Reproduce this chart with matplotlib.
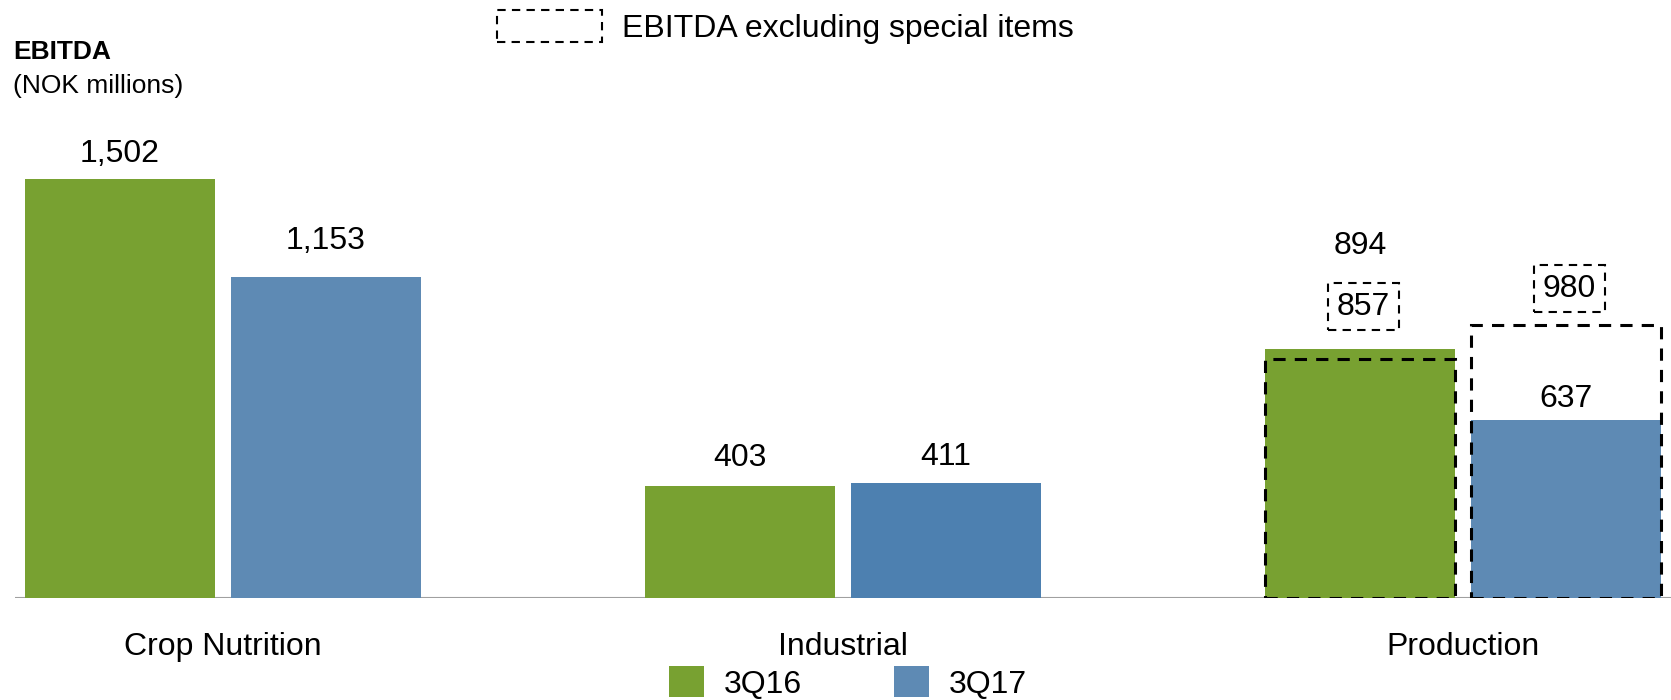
import matplotlib.pyplot as plt
from matplotlib.patches import Patch, Rectangle

plt.rcParams['font.family'] = ['Liberation Sans', 'DejaVu Sans']

categories = ["Crop Nutrition", "Industrial", "Production"]
ebitda_3q16 = [1502, 403, 894]
ebitda_3q17 = [1153, 411, 637]
# EBITDA excluding special items (only shown for Production)
excl_special = {2: (857, 980)}
series_names = ["3Q16", "3Q17"]

GREEN = "#78A131"
BLUE = "#5E8AB4"
BLUE_DARK = "#4D80B0"

fig = plt.figure(figsize=(16.71, 7.0), dpi=100)
ax = fig.add_axes([15 / 1671, 102 / 700, 1 - 15 / 1671, 598 / 700])
ax.set_xlim(-0.335, 2.335)
ax.set_ylim(0, 2145)
ax.axis("off")

off = 0.166
width = 0.306
fs = 23

blue_cols = [BLUE, BLUE_DARK, BLUE]
for i, cat in enumerate(categories):
    ax.bar(i - off, ebitda_3q16[i], width, color=GREEN, zorder=2)
    ax.bar(i + off, ebitda_3q17[i], width, color=blue_cols[i], zorder=2)
    ax.text(i, -176, cat, ha="center", va="center", fontsize=fs)

ax.axhline(0, color="#A0A0A0", lw=1.5, zorder=1)

# value labels
lab_off = [(90, 127), (98, 93), (370, 76)]
for i in range(len(categories)):
    ax.text(i - off, ebitda_3q16[i] + lab_off[i][0], f"{ebitda_3q16[i]:,}",
            ha="center", va="center", fontsize=fs)
    ax.text(i + off, ebitda_3q17[i] + lab_off[i][1], f"{ebitda_3q17[i]:,}",
            ha="center", va="center", fontsize=fs)

# dashed outlines for EBITDA excluding special items
dash = (0, (4, 3))
for i, (v16, v17) in excl_special.items():
    for x, v, lift in [(i - off, v16, 188), (i + off, v17, 130)]:
        ax.add_patch(Rectangle((x - width / 2, 0), width, v, fill=False,
                               edgecolor="black", lw=2.2, linestyle=dash,
                               zorder=3))
        ax.text(x + 0.005, v + lift, f"{v:,}", ha="center", va="center",
                fontsize=fs,
                bbox=dict(boxstyle="square,pad=0.27", facecolor="none",
                          edgecolor="black", lw=1.5, linestyle=(0, (4, 3))))

# axis title
fig.text(13 / 1671, 1 - 52 / 700, "EBITDA", fontsize=19, fontweight="bold",
         va="center", ha="left")
fig.text(13 / 1671, 1 - 86 / 700, "(NOK millions)", fontsize=19,
         va="center", ha="left")

# top legend
top_handle = Patch(facecolor="none", edgecolor="black", lw=1.5,
                   linestyle=(0, (4, 3)))
fig.legend([top_handle], ["EBITDA excluding special items"],
           loc="center left", bbox_to_anchor=(497 / 1671, 1 - 27 / 700),
           frameon=False, fontsize=fs, handlelength=3.3, handleheight=1.15,
           handletextpad=0.6, borderpad=0, borderaxespad=0)

# bottom legend
handles = [Patch(facecolor=GREEN), Patch(facecolor=BLUE)]
fig.legend(handles, series_names, loc="center",
           bbox_to_anchor=(848 / 1671, 1 - 683 / 700), ncol=2,
           frameon=False, fontsize=fs, handlelength=1.1, handleheight=1.1,
           handletextpad=0.6, columnspacing=2.9, borderpad=0,
           borderaxespad=0)

fig.savefig("out.png", dpi=100)
